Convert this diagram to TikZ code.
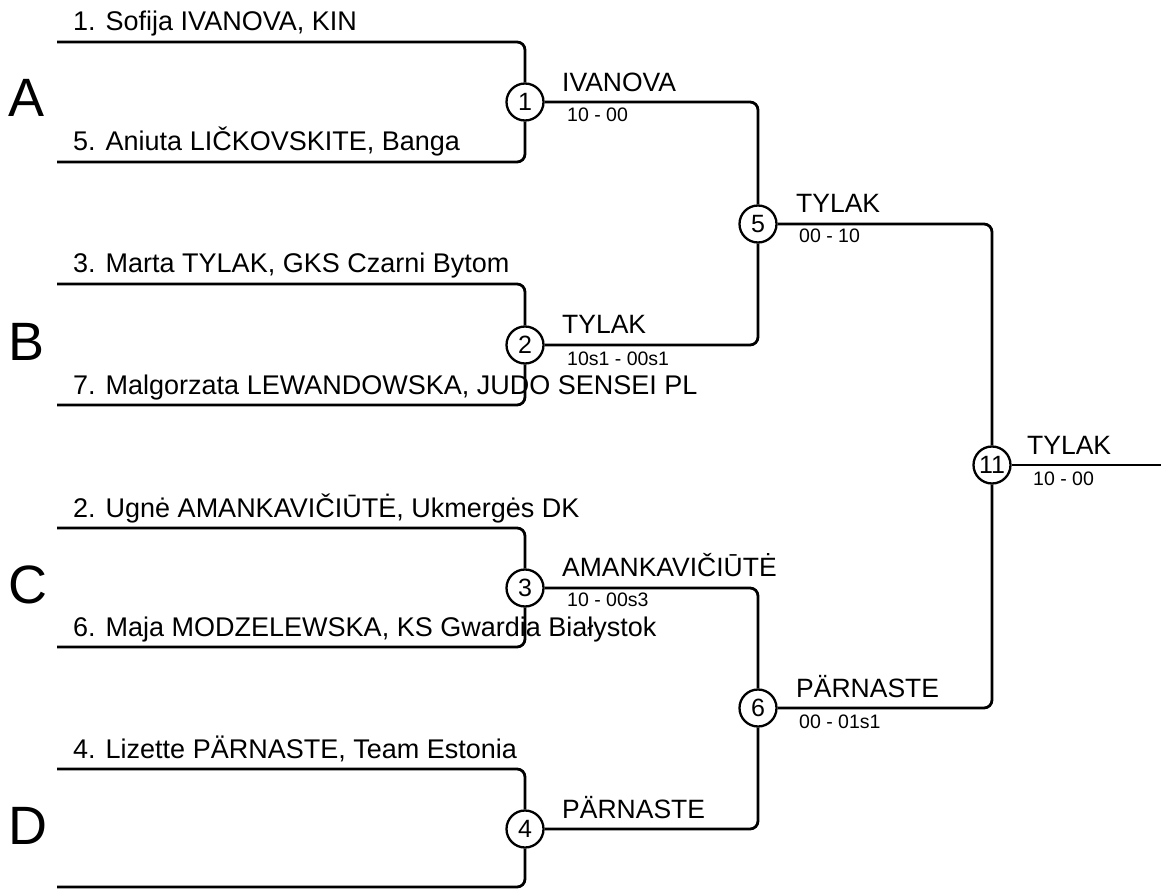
\documentclass[tikz,border=0pt]{standalone}
\usepackage{fontspec}
\setmainfont{Liberation Sans}
\begin{document}
\begin{tikzpicture}[x=1pt,y=-1pt,
  ln/.style={line width=2.8pt,rounded corners=8pt},
  mc/.style={circle,draw,line width=2.3pt,minimum size=37pt,inner sep=0pt,font=\fontsize{25}{25}\selectfont},
  entry/.style={anchor=base west,inner sep=0pt,font=\fontsize{27}{27}\selectfont},
  win/.style={anchor=base west,inner sep=0pt,font=\fontsize{26.5}{26.5}\selectfont},
  score/.style={anchor=base west,inner sep=0pt,font=\fontsize{19.5}{19.5}\selectfont},
  grp/.style={anchor=base west,inner sep=0pt,font=\fontsize{54}{54}\selectfont}]
\useasboundingbox (0,0) rectangle (1161,890);
% circles
\node[mc] (c1) at (525,102) {1};
\node[mc] (c2) at (525,345) {2};
\node[mc] (c3) at (525,588) {3};
\node[mc] (c4) at (525,829) {4};
\node[mc] (c5) at (758,224) {5};
\node[mc] (c6) at (758,708) {6};
\node[mc] (c11) at (992,465) {11};
% entry line starts
\coordinate (e1) at (57,42);
\coordinate (e5) at (57,162);
\coordinate (e3) at (57,284);
\coordinate (e7) at (57,405);
\coordinate (e2) at (57,528);
\coordinate (e6) at (57,647);
\coordinate (e4) at (57,769);
\coordinate (e8) at (57,887);
\coordinate (fin) at (1161,465);
% connectors
\draw[ln] (e1) -| (c1.north);
\draw[ln] (e5) -| (c1.south);
\draw[ln] (e3) -| (c2.north);
\draw[ln] (e7) -| (c2.south);
\draw[ln] (e2) -| (c3.north);
\draw[ln] (e6) -| (c3.south);
\draw[ln] (e4) -| (c4.north);
\draw[ln] (e8) -| (c4.south);
\draw[ln] (c1.east) -| (c5.north);
\draw[ln] (c2.east) -| (c5.south);
\draw[ln] (c3.east) -| (c6.north);
\draw[ln] (c4.east) -| (c6.south);
\draw[ln] (c5.east) -| (c11.north);
\draw[ln] (c6.east) -| (c11.south);
\draw[ln] (c11.east) -- (fin);
% group letters
\node[grp] (gA) at (8,117) {A};
\node[grp] (gB) at (8,360) {B};
\node[grp] (gC) at (8,603) {C};
\node[grp] (gD) at (8,844) {D};
% entries
\node[entry] (t1) at (73,31) {1. Sofija IVANOVA, KIN};
\node[entry] (t5) at (73,151) {5. Aniuta LIČKOVSKITE, Banga};
\node[entry] (t3) at (73,273) {3. Marta TYLAK, GKS Czarni Bytom};
\node[entry] (t7) at (73,394) {7. Malgorzata LEWANDOWSKA, JUDO SENSEI PL};
\node[entry] (t2) at (73,517) {2. Ugnė AMANKAVIČIŪTĖ, Ukmergės DK};
\node[entry] (t6) at (73,636) {6. Maja MODZELEWSKA, KS Gwardia Białystok};
\node[entry] (t4) at (73,758) {4. Lizette PÄRNASTE, Team Estonia};
% winners
\node[win] (w1) at (562,92) {IVANOVA};
\node[score] (s1) at (567,122) {10 - 00};
\node[win] (w2) at (562,334) {TYLAK};
\node[score] (s2) at (567,365) {10s1 - 00s1};
\node[win] (w3) at (562,576) {AMANKAVIČIŪTĖ};
\node[score] (s3) at (567,606) {10 - 00s3};
\node[win] (w4) at (562,818) {PÄRNASTE};
\node[win] (w5) at (796,213) {TYLAK};
\node[score] (s5) at (799,243) {00 - 10};
\node[win] (w6) at (796,697) {PÄRNASTE};
\node[score] (s6) at (799,728) {00 - 01s1};
\node[win] (w11) at (1027,454) {TYLAK};
\node[score] (s11) at (1033,485) {10 - 00};
\end{tikzpicture}
\end{document}
